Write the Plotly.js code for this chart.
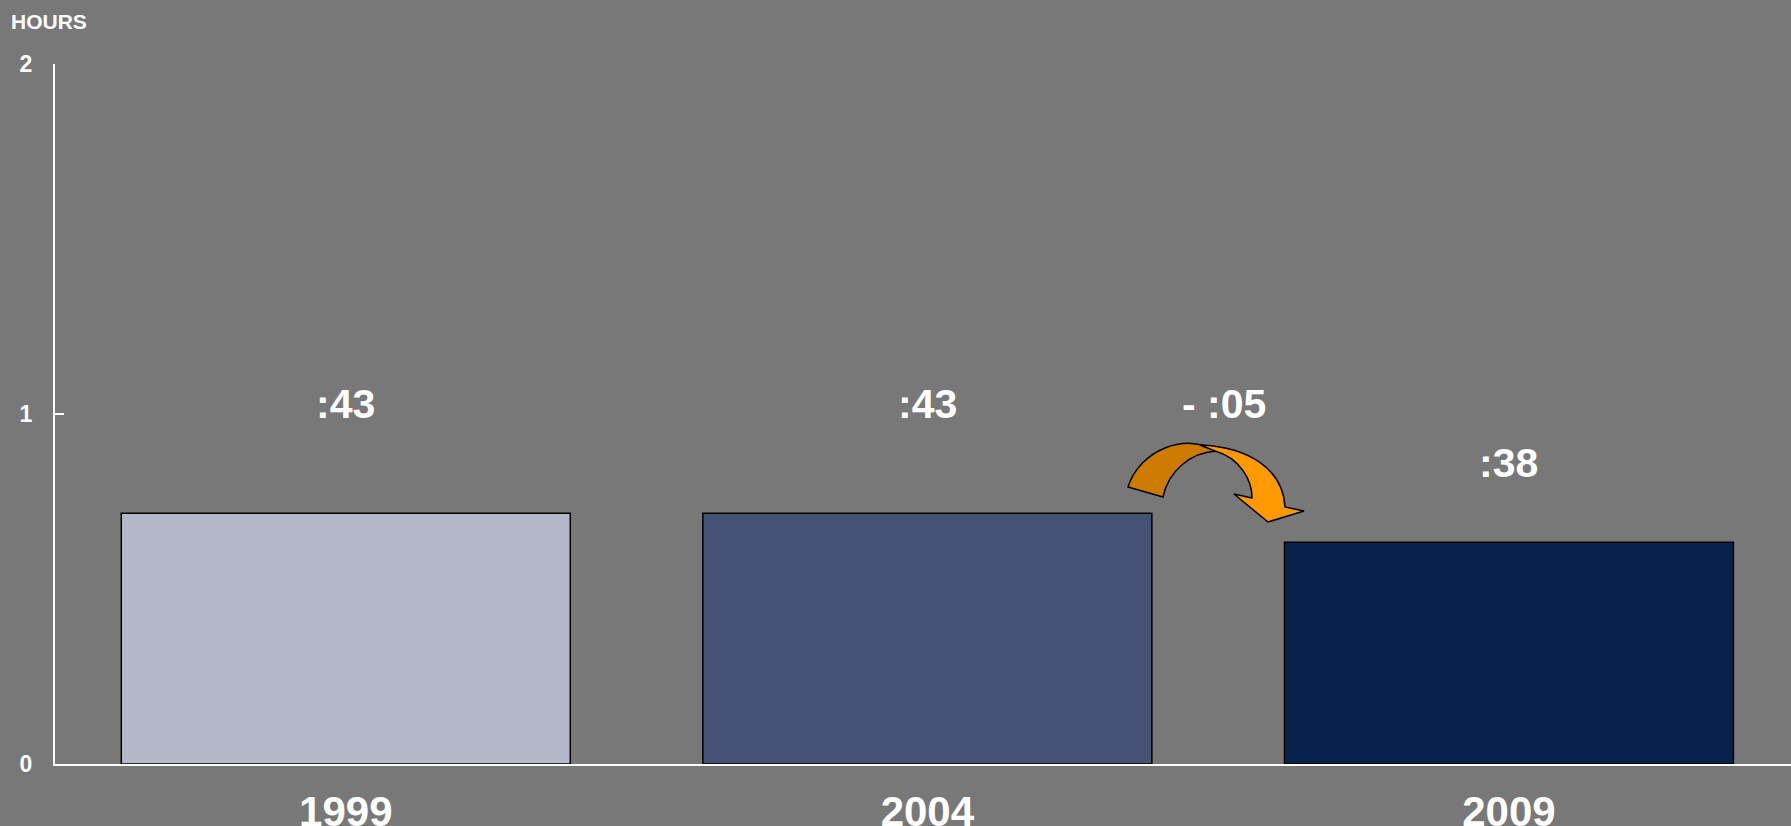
<!DOCTYPE html>
<html>
<head>
<meta charset="utf-8">
<script src="https://cdn.plot.ly/plotly-3.0.1.min.js"></script>
<style>html,body{margin:0;padding:0;background:#787878;}#chart{width:1791px;height:826px;}</style>
</head>
<body>
<div id="chart"></div>
<script>
// ---- data ----
const years = ['1999', '2004', '2009'];
const minutes = [43, 43, 38];
const barColors = ['#B4B8C9', '#455273', '#06214A'];
const changeLabel = '- :05';
const yTickVals = [0, 1, 2];
const yTickText = ['0', '1', '2'];
const axisTitle = 'HOURS';

const hours = minutes.map(m => m / 60);
const valueLabels = minutes.map(m => ':' + String(m).padStart(2, '0'));

// ---- layout constants ----
const W = 1791, H = 826;
const M = {l: 55, r: 0, t: 64, b: 62};
const PW = W - M.l - M.r, PH = H - M.t - M.b;
const FONT = 'Arial, "Liberation Sans", sans-serif';

// pixel -> paper helper for the decorative arrow
function P(x, y) { return ((x - M.l) / PW).toFixed(5) + ',' + ((H - M.b - y) / PH).toFixed(5); }

const darkPath = 'M ' + P(1128, 487) + ' C ' + P(1140, 450) + ' ' + P(1185, 432) + ' ' + P(1217, 451) +
  ' C ' + P(1190, 452) + ' ' + P(1168, 472) + ' ' + P(1163, 497) + ' Z';
const lightPath = 'M ' + P(1200, 445) + ' C ' + P(1250, 447) + ' ' + P(1283, 470) + ' ' + P(1285, 507) +
  ' L ' + P(1304, 511) + ' L ' + P(1268, 522) + ' L ' + P(1234, 494) + ' L ' + P(1252, 498) +
  ' C ' + P(1252, 480) + ' ' + P(1240, 458) + ' ' + P(1215, 451) + ' Z';

const labelY = [1.03, 1.03, 0.86];
const labelFont = {family: FONT, size: 41, color: '#FFFFFF', weight: 'bold'};

const annotations = years.map((yr, i) => ({
  x: i, y: labelY[i], xref: 'x', yref: 'y', text: valueLabels[i], showarrow: false,
  font: labelFont, xanchor: 'center', yanchor: 'middle'
}));
annotations.push({
  x: 1.51, y: 1.03, xref: 'x', yref: 'y', text: changeLabel, showarrow: false,
  font: labelFont, xanchor: 'center', yanchor: 'middle'
});
annotations.push({
  x: (9 - M.l) / PW, y: (H - M.b - 22) / PH, xref: 'paper', yref: 'paper', text: axisTitle, showarrow: false,
  font: {family: FONT, size: 21, color: '#FFFFFF', weight: 'bold'}, xanchor: 'left', yanchor: 'middle'
});

const trace = {
  type: 'bar', x: years, y: hours,
  marker: {color: barColors, line: {color: '#000000', width: 1.5}},
  hoverinfo: 'skip'
};

const layout = {
  width: W, height: H,
  margin: M,
  paper_bgcolor: '#787878', plot_bgcolor: '#787878',
  showlegend: false,
  bargap: 0.228,
  font: {family: FONT, color: '#FFFFFF'},
  xaxis: {
    type: 'category', range: [-0.5, 2.485],
    showgrid: false, zeroline: false,
    showline: true, linecolor: '#FFFFFF', linewidth: 2,
    ticks: '', ticklabelstandoff: 10,
    tickfont: {family: FONT, size: 42, color: '#FFFFFF', weight: 'bold'}
  },
  yaxis: {
    range: [0, 2], tickvals: yTickVals, ticktext: yTickText,
    showgrid: false, zeroline: false,
    showline: true, linecolor: '#FFFFFF', linewidth: 2,
    ticks: 'inside', ticklen: 9, tickwidth: 2, tickcolor: '#FFFFFF',
    ticklabelstandoff: 16,
    tickfont: {family: FONT, size: 23, color: '#FFFFFF', weight: 'bold'}
  },
  annotations: annotations,
  shapes: [
    {type: 'path', xref: 'paper', yref: 'paper', path: darkPath, fillcolor: '#CC7A00', line: {color: '#000000', width: 1.5}},
    {type: 'path', xref: 'paper', yref: 'paper', path: lightPath, fillcolor: '#FF9900', line: {color: '#000000', width: 1.5}}
  ]
};

Plotly.newPlot('chart', [trace], layout, {displayModeBar: false, staticPlot: true});
</script>
</body>
</html>
